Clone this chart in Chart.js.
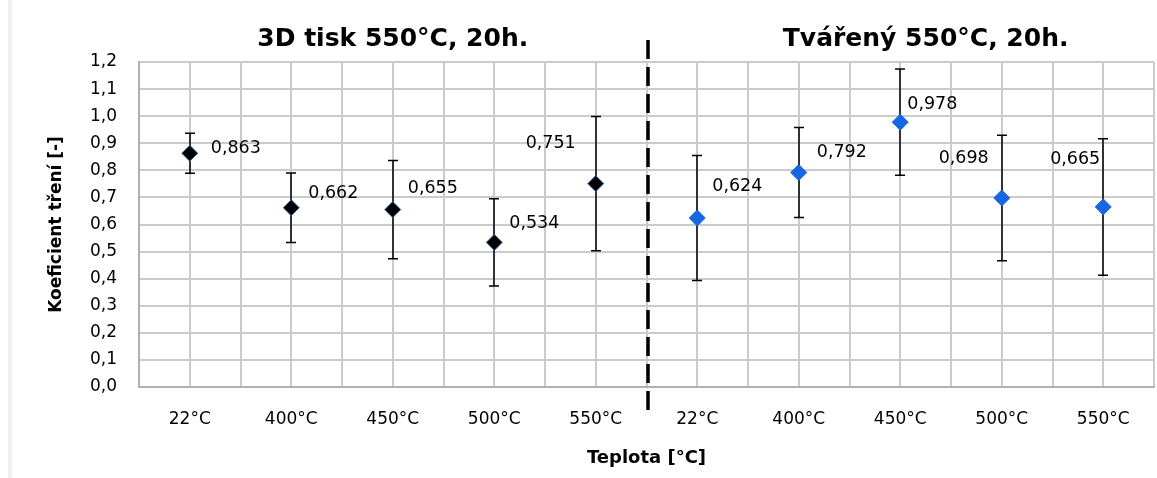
<!DOCTYPE html>
<html>
<head>
<meta charset="utf-8">
<title>Koeficient tření</title>
<script src="https://cdn.jsdelivr.net/npm/chart.js@4"></script>
<style>
  html, body { margin: 0; padding: 0; background: #fff; }
</style>
</head>
<body>
<canvas id="chart" width="1157" height="478"></canvas>
<script>
// Temperatures, same set for both halves of the chart
const temps = ['22°C', '400°C', '450°C', '500°C', '550°C'];
const x_labels = [...temps, ...temps];
const group_titles = ['3D tisk 550°C, 20h.', 'Tvářený 550°C, 20h.'];

// 3D tisk: mean friction coefficient and its spread
const print_mean = [0.863, 0.662, 0.655, 0.534, 0.751];
const print_err = [0.074, 0.128, 0.181, 0.161, 0.248];

// Tvářený: mean friction coefficient and its spread
const formed_mean = [0.624, 0.792, 0.978, 0.698, 0.665];
const formed_err = [0.231, 0.166, 0.196, 0.232, 0.252];

const y_ticks = [0, 0.1, 0.2, 0.3, 0.4, 0.5, 0.6, 0.7, 0.8, 0.9, 1.0, 1.1, 1.2];

// where each value label sits next to its marker (dx, dy in px; dx < 0 = text left of marker)
const print_label_pos = [[21, -5], [17, -14], [15, -21], [15, -19], [-20, -40]];
const formed_label_pos = [[15, -32], [18, -20], [7, -18], [-13, -40], [-3, -47]];

const FONT = '"DejaVu Sans", sans-serif';
const fmt = (v, d) => v.toFixed(d).replace('.', ',');

// error bars, value labels, group titles, axis titles and the divider
const extras = {
  id: 'extras',
  beforeDraw(chart) {
    const ctx = chart.ctx;
    ctx.save();
    ctx.fillStyle = '#f0f0f0';
    ctx.fillRect(8, 0, 4, chart.height);
    ctx.restore();
  },
  beforeDatasetsDraw(chart) {
    const ctx = chart.ctx;
    const sx = chart.scales.x, sy = chart.scales.y;
    ctx.save();
    ctx.strokeStyle = '#000';
    ctx.lineWidth = 1.5;
    chart.data.datasets.forEach(ds => {
      ds.data.forEach((p, i) => {
        const px = Math.round(sx.getPixelForValue(p.x));
        const top = sy.getPixelForValue(p.y + ds.errors[i]);
        const bot = sy.getPixelForValue(p.y - ds.errors[i]);
        ctx.beginPath();
        ctx.moveTo(px, top); ctx.lineTo(px, bot);
        ctx.moveTo(px - 5, top); ctx.lineTo(px + 5, top);
        ctx.moveTo(px - 5, bot); ctx.lineTo(px + 5, bot);
        ctx.stroke();
      });
    });
    ctx.restore();
  },
  afterDraw(chart) {
    const ctx = chart.ctx;
    const sx = chart.scales.x, sy = chart.scales.y;
    ctx.save();

    // value labels
    ctx.fillStyle = '#000';
    ctx.font = '17.5px ' + FONT;
    ctx.textBaseline = 'middle';
    chart.data.datasets.forEach(ds => {
      ds.data.forEach((p, i) => {
        const [dx, dy] = ds.labelPos[i];
        ctx.textAlign = dx < 0 ? 'right' : 'left';
        ctx.fillText(fmt(p.y, 3), sx.getPixelForValue(p.x) + dx, sy.getPixelForValue(p.y) + dy);
      });
    });

    // dashed divider between the two groups
    const xd = sx.getPixelForValue(4.5) + 1.5;
    ctx.strokeStyle = '#000';
    ctx.lineWidth = 3.5;
    ctx.setLineDash([19, 8]);
    ctx.beginPath();
    ctx.moveTo(xd, 40);
    ctx.lineTo(xd, 412);
    ctx.stroke();
    ctx.setLineDash([]);

    // group titles
    ctx.font = 'bold 25px ' + FONT;
    ctx.textAlign = 'center';
    ctx.textBaseline = 'alphabetic';
    ctx.fillText(group_titles[0], sx.getPixelForValue(2), 46);
    ctx.fillText(group_titles[1], sx.getPixelForValue(7.25), 46);

    // axis titles
    ctx.textBaseline = 'middle';
    ctx.font = 'bold 18px ' + FONT;
    ctx.fillText('Teplota [°C]', sx.getPixelForValue(4.5), 458);
    ctx.translate(57, (chart.chartArea.top + chart.chartArea.bottom) / 2);
    ctx.rotate(-Math.PI / 2);
    ctx.font = 'bold 17px ' + FONT;
    ctx.fillText('Koeficient tření [-]', 0, 0);
    ctx.restore();
  }
};

new Chart(document.querySelector('#chart'), {
  type: 'scatter',
  data: {
    datasets: [{
      label: group_titles[0],
      data: print_mean.map((v, i) => ({x: i, y: v})),
      errors: print_err,
      labelPos: print_label_pos,
      pointStyle: 'rectRot',
      pointRadius: 8,
      pointHoverRadius: 8,
      backgroundColor: '#000',
      borderColor: '#3a68b0',
      borderWidth: 1
    }, {
      label: group_titles[1],
      data: formed_mean.map((v, i) => ({x: i + 5, y: v})),
      errors: formed_err,
      labelPos: formed_label_pos,
      pointStyle: 'rectRot',
      pointRadius: 8,
      pointHoverRadius: 8,
      backgroundColor: '#1766e3',
      borderColor: '#1766e3',
      borderWidth: 1
    }]
  },
  options: {
    responsive: false,
    animation: false,
    layout: { autoPadding: false, padding: { top: 62, right: 3, left: 0, bottom: 0 } },
    plugins: { legend: { display: false }, tooltip: { enabled: false } },
    scales: {
      x: {
        type: 'linear',
        min: -0.5,
        max: 9.5,
        afterBuildTicks: axis => {
          axis.ticks = Array.from({length: 21}, (v, i) => ({value: i / 2 - 0.5}));
        },
        afterFit: axis => {
          axis.height = 91;
          // end ticks carry no label, so no side padding is needed
          axis.paddingLeft = 0;
          axis.paddingRight = 0;
        },
        ticks: {
          autoSkip: false,
          maxRotation: 0,
          padding: 22,
          color: '#000',
          font: { family: FONT, size: 17 },
          callback: v => Number.isInteger(v) ? x_labels[v] : ''
        },
        grid: { color: '#cbcbcb', lineWidth: 2, drawTicks: false },
        border: { color: '#b0b0b0', width: 2 }
      },
      y: {
        min: 0,
        max: 1.2,
        afterBuildTicks: axis => {
          axis.ticks = y_ticks.map(v => ({value: v}));
        },
        afterFit: axis => { axis.width = 139; },
        ticks: {
          padding: 22,
          color: '#000',
          font: { family: FONT, size: 17 },
          callback: v => fmt(v, 1)
        },
        grid: { color: '#cbcbcb', lineWidth: 2, drawTicks: false },
        border: { color: '#b0b0b0', width: 2 }
      }
    }
  },
  plugins: [extras]
});
</script>
</body>
</html>
